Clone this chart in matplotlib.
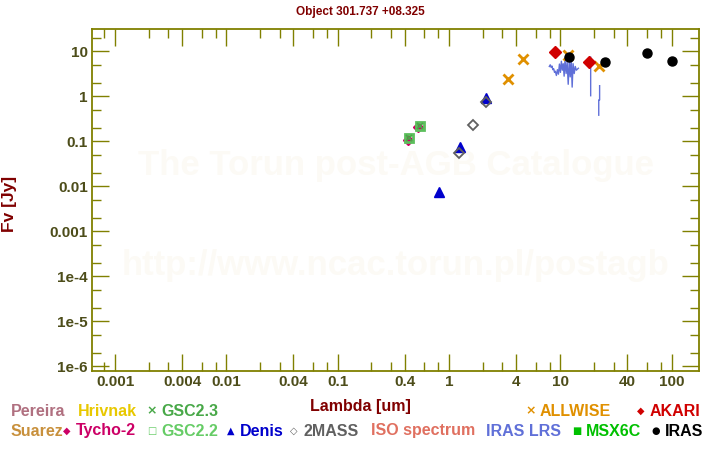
import numpy as np
import matplotlib
matplotlib.use("Agg")
import matplotlib.pyplot as plt
from matplotlib.ticker import LogLocator, FuncFormatter, NullFormatter

plt.rcParams['font.family'] = ['Liberation Sans', 'DejaVu Sans']
plt.rcParams['font.weight'] = 'bold'

# photometry (wavelength um, flux Jy)
tycho_wl = [0.43, 0.53]
tycho_fl = [0.107, 0.205]
gsc22_wl = [0.44, 0.55]
gsc22_fl = [0.116, 0.215]
gsc23_wl = [0.44, 0.55]
gsc23_fl = [0.116, 0.215]
denis_wl = [0.81, 1.25, 2.15]
denis_fl = [0.0076, 0.073, 0.94]
twomass_wl = [1.24, 1.65, 2.16]
twomass_fl = [0.056, 0.227, 0.76]
allwise_wl = [3.35, 4.6, 11.6, 22.1]
allwise_fl = [2.39, 6.6, 8.1, 4.6]
akari_wl = [9.0, 18.0]
akari_fl = [9.5, 5.7]
iras_wl = [12.0, 25.0, 60.0, 100.0]
iras_fl = [7.6, 5.7, 9.0, 6.0]

# IRAS LRS spectrum (nan = gap)
lrs_wl = [7.95, 8.1, 8.25, 8.4, 8.55, 8.7, 8.85, 9.0, 9.2, 9.4, 9.6, 9.8,
          10.0, 10.2, 10.4, 10.6, 10.8, 11.0, 11.25, 11.5, 11.75, 12.0,
          12.25, 12.5, 12.75, 13.0, 13.3, 13.6, 13.9, 14.2, 14.5, np.nan,
          18.7, 18.7, np.nan, 22.5, 22.5, 22.1, 22.1]
lrs_fl = [4.6, 5.0, 4.4, 4.7, 3.9, 4.1, 3.4, 3.6, 2.9, 3.9, 3.1, 5.2, 3.4,
          6.0, 3.8, 5.3, 2.8, 6.6, 3.2, 5.8, 1.85, 6.0, 2.7, 6.8, 1.6, 5.3,
          3.2, 4.6, 3.8, 4.0, 4.2, np.nan,
          7.4, 1.03, np.nan, 1.72, 0.83, 0.83, 0.38]

fig = plt.figure(figsize=(7.2, 4.5), dpi=100)
ax = fig.add_axes([0.1278, 0.1756, 0.8435, 0.7593])
ax.set_xscale('log')
ax.set_yscale('log')
ax.set_xlim(6.2e-4, 177)
ax.set_ylim(7.9e-7, 30.8)

olive = '#808000'
for s in ax.spines.values():
    s.set_color(olive)
    s.set_linewidth(1.3)

ax.text(0.5, 0.60, 'The Torun post-AGB Catalogue', transform=ax.transAxes,
        ha='center', va='center', fontsize=25, color='#fcfaf5', zorder=0)
ax.text(0.5, 0.31, 'http://www.ncac.torun.pl/postagb', transform=ax.transAxes,
        ha='center', va='center', fontsize=25, color='#fcfaf5', zorder=0)

ax.plot(lrs_wl, lrs_fl, color='#6070d8', lw=1)
ax.plot(tycho_wl, tycho_fl, 'D', color='#cc0066', ms=5)
ax.plot(gsc22_wl, gsc22_fl, 's', mfc='none', mec='#5cbf5c', mew=2, ms=5.5)
ax.plot(gsc23_wl, gsc23_fl, 'x', color='#48a848', mew=1.3, ms=4.5)
ax.plot(denis_wl, denis_fl, '^', color='#0000cc', ms=6.5)
ax.plot(twomass_wl, twomass_fl, 'D', mfc='none', mec='#606060', mew=1.3, ms=5.5)
ax.plot(allwise_wl, allwise_fl, 'x', color='#e09000', mew=2, ms=7)
ax.plot(akari_wl, akari_fl, 'D', color='#d00000', ms=6.5)
ax.plot(iras_wl, iras_fl, 'o', color='black', ms=6.5)


def fmt(v, pos):
    if v < 9e-4:
        return '1e-%d' % int(round(-np.log10(v)))
    return '%g' % v


ax.xaxis.set_major_locator(LogLocator(base=10, subs=(1.0, 4.0), numticks=30))
ax.xaxis.set_minor_locator(LogLocator(base=10, subs=(2.0, 3.0, 6.0, 8.0), numticks=30))
ax.yaxis.set_major_locator(LogLocator(base=10, subs=(1.0,), numticks=30))
ax.yaxis.set_minor_locator(LogLocator(base=10, subs=(2.0, 5.0), numticks=30))
ax.xaxis.set_major_formatter(FuncFormatter(fmt))
ax.yaxis.set_major_formatter(FuncFormatter(fmt))
ax.xaxis.set_minor_formatter(NullFormatter())
ax.yaxis.set_minor_formatter(NullFormatter())
ax.tick_params(which='both', direction='in', top=True, right=True,
               color=olive, width=1, labelcolor='#4d4d1a', labelsize=11)
ax.tick_params(which='major', length=12.5, pad=3)
ax.tick_params(which='minor', length=6.5)

fig.text(0.5, 1 - 12 / 450, 'Object 301.737 +08.325', color='#800000',
         fontsize=8.5, ha='center', va='center')
fig.text(9.5 / 720, 1 - 204 / 450, 'Fv [Jy]', color='#800000', fontsize=12.5,
         rotation=90, ha='center', va='center')
fig.text(360 / 720, 1 - 406 / 450, 'Lambda [um]', color='#800000',
         fontsize=11.5, ha='center', va='center')

# legend rows drawn as text, like the original
r1 = 1 - 411 / 450
r2 = 1 - 431 / 450
entries = [
    (r1, 11, None, 'Pereira', '#b07080'),
    (r1, 78, None, 'Hrivnak', '#e8c800'),
    (r1, 161, '\u00d7', 'GSC2.3', '#48a848'),
    (r1, 540, '\u00d7', 'ALLWISE', '#e09000'),
    (r1, 650, '\u25c6', 'AKARI', '#d00000'),
    (r2, 11, None, 'Suarez', '#c8903c'),
    (r2, 76, '\u25c6', 'Tycho-2', '#cc0066'),
    (r2, 161, '\u25a1', 'GSC2.2', '#66cc66'),
    (r2, 240, '\u25b2', 'Denis', '#0000cc'),
    (r2, 303, '\u25c7', '2MASS', '#606060'),
    (r2, 371, None, 'ISO spectrum', '#e07060'),
    (r2, 486, None, 'IRAS LRS', '#6070d8'),
    (r2, 586, '\u25a0', 'MSX6C', '#00c000'),
    (r2, 665, '\u25cf', 'IRAS', '#000000'),
]
for y, x, mk, label, col in entries:
    fig.text(x / 720, y, label, color=col, fontsize=11.5, ha='left', va='center')
    if mk is not None:
        size = 9 if mk == '\u00d7' else 7
        fig.text((x - 9) / 720, y, mk, color=col, fontsize=size,
                 family='DejaVu Sans', ha='center', va='center', fontweight='bold')

fig.savefig('out.png', dpi=100)
